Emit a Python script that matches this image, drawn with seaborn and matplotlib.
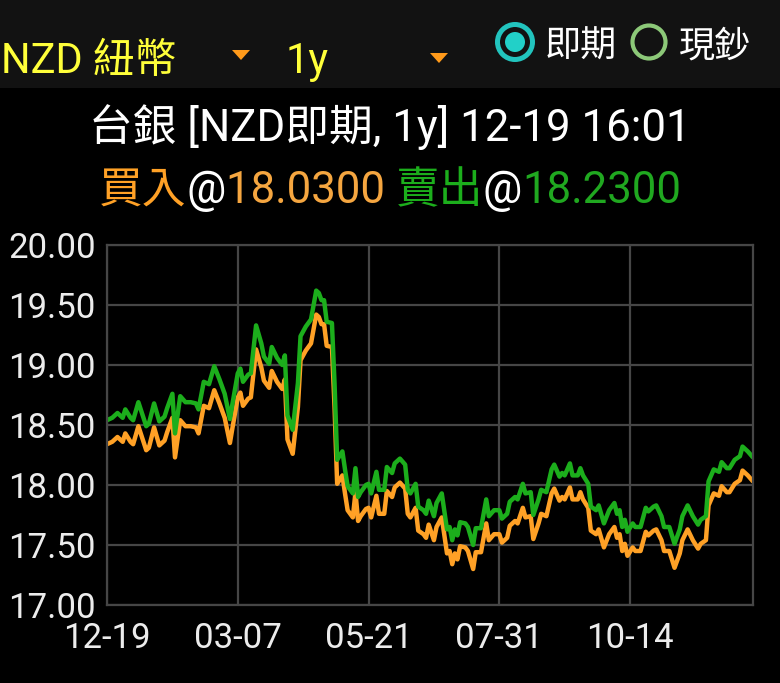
import matplotlib
matplotlib.use("Agg")
import matplotlib.pyplot as plt
import seaborn as sns
import pandas as pd
from matplotlib.patches import Polygon, Ellipse, Rectangle
from matplotlib.offsetbox import TextArea, HPacker, AnnotationBbox

# ---------------- data ----------------
days = [0, 2, 4, 6, 7, 9, 10, 12, 15, 16,
        18, 20, 22, 23, 25, 26, 28, 30, 32, 34,
        35, 37, 39, 41, 43, 45, 47, 48, 50, 51,
        52, 54, 55, 57, 59, 60, 62, 63, 65, 67,
        68, 69, 71, 73, 74, 76, 78, 80, 81, 82,
        83, 84, 86, 87, 88, 90, 91, 92, 94, 95,
        96, 97, 99, 100, 101, 103, 104, 106, 107, 109,
        110, 112, 114, 115, 116, 118, 119, 121, 122, 123,
        125, 126, 128, 130, 131, 132, 133, 134, 135, 137,
        138, 140, 141, 143, 145, 146, 148, 150, 151, 153,
        154, 156, 157, 159, 160, 162, 163, 165, 166, 168,
        170, 171, 173, 174, 175, 177, 178, 180, 181, 182,
        184, 185, 187, 188, 190, 192, 194, 195, 196, 197,
        198, 199, 201, 202, 204, 206, 207, 209, 210, 212,
        213, 215, 217, 219, 220, 222, 224, 226, 227, 229,
        230, 232, 234, 235, 237, 238, 240, 242, 243, 245,
        247]

sell = [18.54, 18.56, 18.60, 18.56, 18.63, 18.56, 18.54, 18.69, 18.49, 18.51,
        18.68, 18.53, 18.57, 18.64, 18.76, 18.43, 18.74, 18.69, 18.69, 18.68,
        18.63, 18.86, 18.84, 18.99, 18.88, 18.76, 18.55, 18.68, 18.93, 18.97,
        18.86, 18.92, 18.93, 19.33, 19.18, 19.07, 19.01, 19.15, 19.06, 19.00,
        19.08, 18.58, 18.46, 18.85, 19.24, 19.32, 19.38, 19.62, 19.60, 19.54,
        19.54, 19.36, 19.35, 18.85, 18.21, 18.28, 18.13, 17.99, 17.93, 18.14,
        17.90, 17.94, 18.00, 18.01, 17.93, 18.11, 17.96, 17.96, 18.15, 18.10,
        18.18, 18.22, 18.17, 17.96, 17.93, 18.01, 17.82, 17.79, 17.76, 17.87,
        17.74, 17.85, 17.93, 17.63, 17.65, 17.54, 17.63, 17.58, 17.69, 17.68,
        17.65, 17.50, 17.64, 17.64, 17.88, 17.74, 17.79, 17.79, 17.72, 17.76,
        17.86, 17.90, 17.88, 18.01, 17.93, 17.94, 17.75, 17.88, 17.96, 17.94,
        18.13, 18.17, 18.07, 18.10, 18.08, 18.18, 18.08, 18.08, 18.14, 18.08,
        18.01, 17.82, 17.79, 17.83, 17.68, 17.79, 17.85, 17.76, 17.79, 17.65,
        17.71, 17.61, 17.68, 17.65, 17.65, 17.81, 17.78, 17.82, 17.83, 17.74,
        17.65, 17.65, 17.51, 17.63, 17.74, 17.83, 17.74, 17.67, 17.71, 17.74,
        18.03, 18.13, 18.11, 18.19, 18.14, 18.14, 18.21, 18.24, 18.32, 18.28,
        18.23]

buy = [18.34, 18.36, 18.40, 18.36, 18.43, 18.36, 18.34, 18.49, 18.29, 18.31,
       18.48, 18.33, 18.37, 18.44, 18.56, 18.23, 18.54, 18.49, 18.49, 18.48,
       18.43, 18.66, 18.64, 18.79, 18.68, 18.56, 18.35, 18.48, 18.73, 18.77,
       18.66, 18.72, 18.73, 19.13, 18.98, 18.87, 18.81, 18.95, 18.86, 18.80,
       18.88, 18.38, 18.26, 18.65, 19.04, 19.12, 19.18, 19.42, 19.40, 19.34,
       19.34, 19.16, 19.15, 18.65, 18.01, 18.08, 17.93, 17.79, 17.73, 17.94,
       17.70, 17.74, 17.80, 17.81, 17.73, 17.91, 17.76, 17.76, 17.95, 17.90,
       17.98, 18.02, 17.97, 17.76, 17.73, 17.81, 17.62, 17.59, 17.56, 17.67,
       17.54, 17.65, 17.73, 17.43, 17.45, 17.34, 17.43, 17.38, 17.49, 17.48,
       17.45, 17.30, 17.44, 17.44, 17.68, 17.54, 17.59, 17.59, 17.52, 17.56,
       17.66, 17.70, 17.68, 17.81, 17.73, 17.74, 17.55, 17.68, 17.76, 17.74,
       17.93, 17.97, 17.87, 17.90, 17.88, 17.98, 17.88, 17.88, 17.94, 17.88,
       17.81, 17.62, 17.59, 17.63, 17.48, 17.59, 17.65, 17.56, 17.59, 17.45,
       17.51, 17.41, 17.48, 17.45, 17.45, 17.61, 17.58, 17.62, 17.63, 17.54,
       17.45, 17.45, 17.31, 17.43, 17.54, 17.63, 17.54, 17.47, 17.51, 17.54,
       17.83, 17.93, 17.91, 17.99, 17.94, 17.94, 18.01, 18.04, 18.12, 18.08,
       18.03]

x_tick_pos = [0, 50, 100, 150, 200]
x_tick_labels = ["12-19", "03-07", "05-21", "07-31", "10-14"]
y_ticks = [17.0, 17.5, 18.0, 18.5, 19.0, 19.5, 20.0]

title_text = "台銀 [NZD即期, 1y] 12-19 16:01"
buy_label, buy_price = "買入", "18.0300"
sell_label, sell_price = "賣出", "18.2300"
currency_text = "NZD 紐幣"
period_text = "1y"
radio_labels = ["即期", "現鈔"]

# ---------------- style ----------------
sns.set_theme(style="dark")
FAM = ["Roboto", "Noto Sans CJK TC", "DejaVu Sans"]
plt.rcParams["font.family"] = FAM

W, H = 780, 683
GREEN = "#1cae1c"
ORANGE = "#ffa126"
GRID = "#464646"
YELLOW = "#ffff3a"

fig = plt.figure(figsize=(W / 100, H / 100), dpi=100, facecolor="black")

def fx(px):
    return px / W

def fy(py):
    return 1 - py / H

# header bar
fig.patches.append(Rectangle((0, fy(88)), 1, 88 / H, transform=fig.transFigure,
                             facecolor="#121212", edgecolor="none", zorder=0))

ax = fig.add_axes([fx(107), fy(605), 646 / W, 360 / H])
ax.set_facecolor("black")

df = pd.DataFrame({"day": days, "sell": sell, "buy": buy})
sns.lineplot(data=df, x="day", y="buy", ax=ax, color=ORANGE, linewidth=3.2)
sns.lineplot(data=df, x="day", y="sell", ax=ax, color=GREEN, linewidth=3.2)

ax.set_xlim(0, 247)
ax.set_ylim(17, 20)
ax.set_xticks(x_tick_pos)
ax.set_xticklabels(x_tick_labels)
ax.set_yticks(y_ticks)
ax.set_yticklabels([f"{v:.2f}" for v in y_ticks])
ax.set_xlabel("")
ax.set_ylabel("")
ax.grid(True, color=GRID, linewidth=1.6)
for s in ax.spines.values():
    s.set_visible(True)
    s.set_color(GRID)
    s.set_linewidth(1.6)
ax.tick_params(axis="both", length=0, colors="#ececec", labelsize=25)
ax.tick_params(axis="y", pad=8)
ax.tick_params(axis="x", pad=12)

# header texts
fig.text(fx(1), fy(73), currency_text, color=YELLOW, fontsize=30,
         ha="left", va="baseline")
fig.text(fx(286), fy(73), period_text, color=YELLOW, fontsize=30,
         ha="left", va="baseline")
for (x0, x1, y0, y1) in [(232, 250, 50, 60), (430, 448, 53, 63)]:
    fig.patches.append(Polygon([(fx(x0), fy(y0)), (fx(x1), fy(y0)),
                                (fx((x0 + x1) / 2), fy(y1))], closed=True,
                               transform=fig.transFigure, facecolor="#ff9a1a",
                               edgecolor="none"))

# radio buttons
fig.patches.append(Ellipse((fx(515), fy(42)), 35 / W, 35 / H, transform=fig.transFigure,
                           facecolor="none", edgecolor="#22c4be", linewidth=3.6))
fig.patches.append(Ellipse((fx(515), fy(42)), 20 / W, 20 / H, transform=fig.transFigure,
                           facecolor="#22d0c8", edgecolor="none"))
fig.patches.append(Ellipse((fx(649), fy(42)), 33 / W, 33 / H, transform=fig.transFigure,
                           facecolor="none", edgecolor="#8cc878", linewidth=3.0))
fig.text(fx(545), fy(57), radio_labels[0], color="white", fontsize=26,
         ha="left", va="baseline")
fig.text(fx(679), fy(57), radio_labels[1], color="white", fontsize=26,
         ha="left", va="baseline")

# title lines
fig.text(fx(390), fy(141), title_text, color="white", fontsize=31.5,
         ha="center", va="baseline")

tp = dict(fontsize=31.5, family=FAM)
parts = [
    TextArea(buy_label, textprops=dict(color=ORANGE, **tp)),
    TextArea("@", textprops=dict(color="white", **tp)),
    TextArea(buy_price + " ", textprops=dict(color="#f5a640", **tp)),
    TextArea(sell_label, textprops=dict(color=GREEN, **tp)),
    TextArea("@", textprops=dict(color="white", **tp)),
    TextArea(sell_price, textprops=dict(color="#20a820", **tp)),
]
pack = HPacker(children=parts, align="baseline", pad=0, sep=0)
ab = AnnotationBbox(pack, (fx(390), fy(191)), xycoords="figure fraction",
                    frameon=False, box_alignment=(0.5, 0.5))
fig.add_artist(ab)

fig.savefig("out.png", dpi=100, facecolor="black")
